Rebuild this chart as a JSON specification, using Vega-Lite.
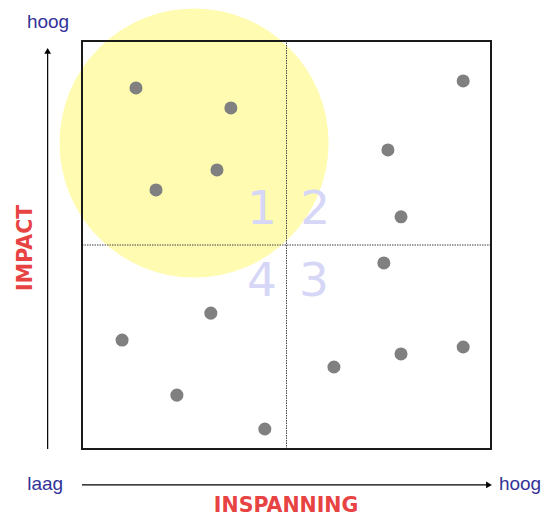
{
  "$schema": "https://vega.github.io/schema/vega-lite/v6.json",
  "width": 409,
  "height": 408,
  "padding": {"left": 82, "top": 41, "right": 50, "bottom": 67},
  "autosize": {"type": "none"},
  "background": "white",
  "config": {"view": {"stroke": null}},
  "encoding": {
    "x": {"field": "x", "type": "quantitative", "scale": {"domain": [0, 10], "nice": false, "zero": false}, "axis": null},
    "y": {"field": "y", "type": "quantitative", "scale": {"domain": [0, 10], "nice": false, "zero": false}, "axis": null}
  },
  "layer": [
    {
      "data": {"values": [{"x": 2.74, "y": 7.5}]},
      "mark": {"type": "point", "shape": "circle", "filled": true, "size": 72361, "color": "#fffbb0", "opacity": 1, "clip": false}
    },
    {
      "data": {"values": [
        {"x": 4.40, "y": 5.86, "label": "1"},
        {"x": 5.70, "y": 5.86, "label": "2"},
        {"x": 4.40, "y": 4.09, "label": "4"},
        {"x": 5.67, "y": 4.09, "label": "3"}
      ]},
      "mark": {"type": "text", "font": "DejaVu Sans", "fontSize": 47, "color": "#d6d6f6", "baseline": "middle", "align": "center"},
      "encoding": {"text": {"field": "label"}}
    },
    {
      "data": {"values": [
        {"x": 5, "y": 0, "x2": 5, "y2": 10},
        {"x": 0, "y": 5, "x2": 10, "y2": 5}
      ]},
      "mark": {"type": "rule", "color": "#444444", "strokeWidth": 1, "strokeDash": [1.5, 1]},
      "encoding": {"x2": {"field": "x2"}, "y2": {"field": "y2"}}
    },
    {
      "data": {"values": [{"x": 0, "y": 0, "x2": 10, "y2": 10}]},
      "mark": {"type": "rect", "fill": null, "fillOpacity": 0, "stroke": "#1a1a1a", "strokeWidth": 2},
      "encoding": {"x2": {"field": "x2"}, "y2": {"field": "y2"}}
    },
    {
      "data": {"values": [
        {"x": 1.32, "y": 8.85},
        {"x": 3.64, "y": 8.36},
        {"x": 3.30, "y": 6.84},
        {"x": 1.81, "y": 6.35},
        {"x": 9.32, "y": 9.02},
        {"x": 7.48, "y": 7.33},
        {"x": 7.80, "y": 5.69},
        {"x": 7.38, "y": 4.56},
        {"x": 3.15, "y": 3.33},
        {"x": 0.98, "y": 2.67},
        {"x": 2.32, "y": 1.32},
        {"x": 4.47, "y": 0.49},
        {"x": 6.16, "y": 2.01},
        {"x": 7.80, "y": 2.33},
        {"x": 9.32, "y": 2.50}
      ]},
      "mark": {"type": "point", "shape": "circle", "filled": true, "size": 170, "color": "#808080", "opacity": 1}
    },
    {
      "data": {"values": [
        {"x": -0.84, "y": 0, "x2": -0.84, "y2": 9.7},
        {"x": 0, "y": -0.88, "x2": 9.9, "y2": -0.88}
      ]},
      "mark": {"type": "rule", "color": "black", "strokeWidth": 1.2, "clip": false},
      "encoding": {"x2": {"field": "x2"}, "y2": {"field": "y2"}}
    },
    {
      "data": {"values": [{"x": -0.84, "y": 9.76}]},
      "mark": {"type": "point", "shape": "triangle-up", "filled": true, "size": 45, "color": "black", "opacity": 1, "clip": false}
    },
    {
      "data": {"values": [{"x": 9.95, "y": -0.88}]},
      "mark": {"type": "point", "shape": "triangle-right", "filled": true, "size": 45, "color": "black", "opacity": 1, "clip": false}
    },
    {
      "data": {"values": [
        {"x": -0.83, "y": 10.47, "label": "hoog"},
        {"x": -0.90, "y": -0.86, "label": "laag"},
        {"x": 10.71, "y": -0.86, "label": "hoog"}
      ]},
      "mark": {"type": "text", "font": "Liberation Sans", "fontSize": 19, "color": "#333399", "baseline": "middle", "align": "center", "clip": false},
      "encoding": {"text": {"field": "label"}}
    },
    {
      "data": {"values": [{"x": -1.37, "y": 4.93, "label": "IMPACT"}]},
      "mark": {"type": "text", "font": "DejaVu Sans", "fontWeight": "bold", "fontSize": 20.5, "color": "#e84343", "baseline": "middle", "align": "center", "angle": 270, "clip": false},
      "encoding": {"text": {"field": "label"}}
    },
    {
      "data": {"values": [{"x": 4.99, "y": -1.40, "label": "INSPANNING"}]},
      "mark": {"type": "text", "font": "DejaVu Sans", "fontWeight": "bold", "fontSize": 20.5, "color": "#e84343", "baseline": "middle", "align": "center", "clip": false},
      "encoding": {"text": {"field": "label"}}
    }
  ]
}
